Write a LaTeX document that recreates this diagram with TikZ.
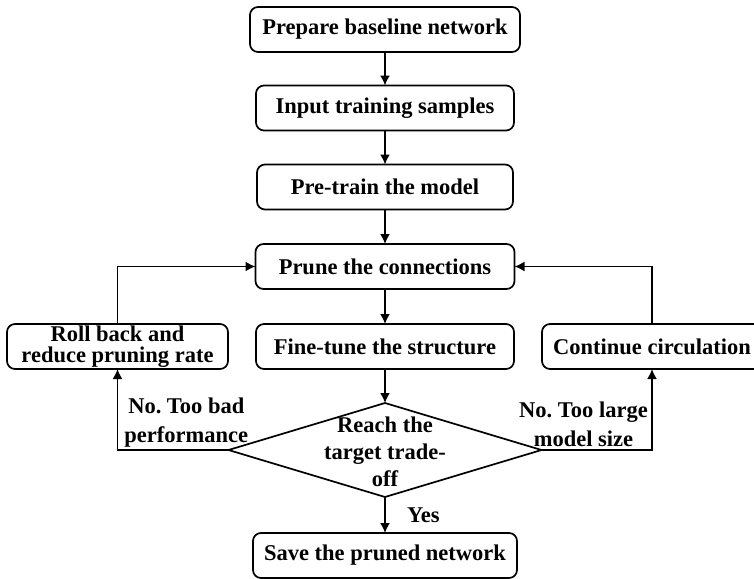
\documentclass[tikz,border=0pt]{standalone}
\usepackage{fontspec}
\setmainfont{Liberation Serif}
\usetikzlibrary{arrows.meta,shapes.geometric}
\frenchspacing

\begin{document}
\begin{tikzpicture}[x=0.5pt,y=-0.5pt,inner sep=0pt,outer sep=0pt,line width=0.85pt,
>={Latex[length=5pt,width=5pt]},font=\fontsize{11.25}{14}\selectfont\bfseries,
stepbox/.style={draw,rectangle,rounded corners=4pt,minimum height=22.5pt,align=center},
decision/.style={draw,diamond,minimum width=156.5pt,minimum height=47pt,aspect=3.3},
note/.style={align=center,inner sep=1.5pt}]
\useasboundingbox (0,0) rectangle (754,578);

\draw (385,29.5) node[stepbox,minimum width=135pt] (prep) {Prepare baseline network};
\draw (385,108) node[stepbox,minimum width=129pt] (input) {Input training samples};
\draw (385,187) node[stepbox,minimum width=128pt] (pretrain) {Pre-train the model};
\draw (385,266.5) node[stepbox,minimum width=129.5pt] (prune) {Prune the connections};
\draw (385,346.5) node[stepbox,minimum width=129pt] (finetune) {Fine-tune the structure};
\draw (117.5,346.5) node[stepbox,minimum width=110.5pt,font=\fontsize{11.25}{10.5}\selectfont\bfseries] (rollback) {Roll back and\\reduce pruning rate};
\draw (652,346.5) node[stepbox,minimum width=110pt] (cont) {Continue circulation};
\draw (385,450) node[decision] (reach) {};
\draw (385,452) node[note,font=\fontsize{11.25}{13.5}\selectfont\bfseries] (reachtext) {Reach the\\target trade-\\off};
\draw (385,555.5) node[stepbox,minimum width=132pt] (save) {Save the pruned network};

\draw[->] (prep) -- (input);
\draw[->] (input) -- (pretrain);
\draw[->] (pretrain) -- (prune);
\draw[->] (prune) -- (finetune);
\draw[->] (finetune) -- (reach);
\draw[->] (reach) -- node[right=11pt,pos=.5] (yes) {Yes} (save);
\draw[->] (rollback.north) |- (prune.west);
\draw[->] (cont.north) |- (prune.east);
\draw[->] (reach.west) -| node[note,above,pos=.19,font=\fontsize{11.25}{14.5}\selectfont\bfseries] (bad) {No. Too bad\\performance} (rollback.south);
\draw[->] (reach.east) -| node[note,above,pos=.19,font=\fontsize{11.25}{14.5}\selectfont\bfseries] (large) {No. Too large\\model size} (cont.south);
\end{tikzpicture}
\end{document}
